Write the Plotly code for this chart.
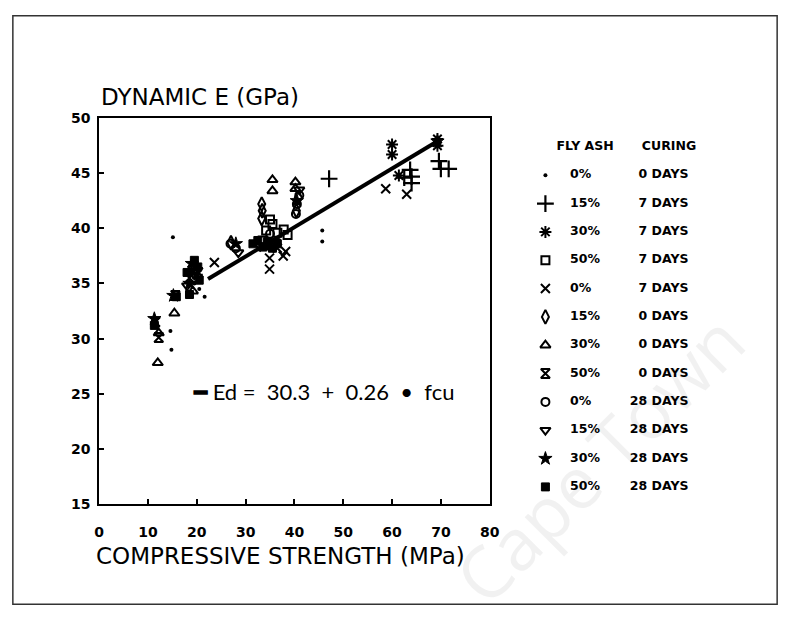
import plotly.graph_objects as go

# ---------------- data ----------------
x_ticks = [0, 10, 20, 30, 40, 50, 60, 70, 80]
y_ticks = [15, 20, 25, 30, 35, 40, 45, 50]

fly_ash = ["0%", "15%", "30%", "50%", "0%", "15%", "30%", "50%", "0%", "15%", "30%", "50%"]
curing = ["0 DAYS", "7 DAYS", "7 DAYS", "7 DAYS", "7 DAYS", "0 DAYS", "0 DAYS", "0 DAYS",
          "28 DAYS", "28 DAYS", "28 DAYS", "28 DAYS"]

# 0% fly ash, 0 days (dot)
s01_x = [14.6, 14.8, 15.1, 21.6, 45.7, 45.7, 19.5, 20.5]
s01_y = [30.7, 29.0, 39.2, 33.8, 39.8, 38.8, 35.0, 34.5]
# 15% fly ash, 7 days (+)
s02_x = [47.1, 63.7, 64.0, 64.0, 69.6, 70.0, 71.6, 62.5]
s02_y = [44.5, 45.3, 44.7, 44.1, 46.1, 45.4, 45.4, 44.6]
# 30% fly ash, 7 days (asterisk)
s03_x = [60.0, 60.0, 61.4, 69.3, 69.3, 19.0, 20.0]
s03_y = [47.6, 46.7, 44.8, 48.1, 47.5, 36.2, 35.8]
# 50% fly ash, 7 days (open square)
s04_x = [34.2, 35.5, 36.5, 37.8, 38.6, 35.0, 33.5]
s04_y = [39.8, 40.4, 39.6, 39.9, 39.4, 40.8, 38.9]
# 0% fly ash, 7 days (x)
s05_x = [23.6, 34.9, 34.9, 38.2, 37.7, 58.7, 63.0, 36.5]
s05_y = [36.9, 36.3, 37.3, 37.9, 37.5, 43.6, 43.1, 38.2]
# 15% fly ash, 0 days (diamond)
s06_x = [33.3, 33.4, 33.3, 40.8, 40.4, 27.0, 19.0]
s06_y = [42.2, 41.6, 40.9, 42.8, 41.6, 38.7, 36.5]
# 30% fly ash, 0 days (triangle up)
s07_x = [12.0, 15.4, 35.5, 35.5, 40.2, 40.2, 12.2, 19.2]
s07_y = [27.8, 32.3, 44.4, 43.4, 44.2, 43.6, 30.5, 34.3]
# 50% fly ash, 0 days (hourglass)
s08_x = [12.2, 11.5, 15.6, 18.5, 20.3, 35.0]
s08_y = [30.1, 31.5, 33.9, 35.5, 36.0, 38.5]
# 0% fly ash, 28 days (circle)
s09_x = [26.9, 40.3, 40.5, 41.0, 28.0, 35.0]
s09_y = [38.6, 41.3, 42.2, 43.0, 38.2, 39.5]
# 15% fly ash, 28 days (triangle down)
s10_x = [18.0, 19.5, 33.0, 36.0, 41.0, 28.5]
s10_y = [34.8, 35.8, 38.4, 38.8, 43.5, 37.8]
# 30% fly ash, 28 days (star)
s11_x = [15.2, 19.0, 18.5, 34.0, 40.5, 69.3, 28.0, 11.3]
s11_y = [33.9, 36.8, 35.0, 38.5, 42.5, 47.9, 38.6, 31.8]
# 50% fly ash, 28 days (filled square)
s12_x = [11.3, 15.8, 18.0, 19.5, 20.2, 31.5, 32.5, 33.5, 34.5, 35.5, 36.5, 20.5, 18.5]
s12_y = [31.2, 33.8, 36.0, 37.1, 36.5, 38.6, 38.9, 38.3, 38.8, 38.2, 38.6, 35.3, 34.0]

# regression line end points
fit_x = [22.3, 69.3]
fit_y = [35.4, 47.9]

series_x = [s01_x, s02_x, s03_x, s04_x, s05_x, s06_x, s07_x, s08_x, s09_x, s10_x, s11_x, s12_x]
series_y = [s01_y, s02_y, s03_y, s04_y, s05_y, s06_y, s07_y, s08_y, s09_y, s10_y, s11_y, s12_y]

# ---------------- styles ----------------
symbols = ["circle", "cross-thin-open", "asterisk-open", "square-open", "x-thin-open",
           "diamond-tall-open", "triangle-up-open", "hourglass-open", "circle-open",
           "triangle-down-open", "star", "square"]
sizes = [4, 12, 10, 8, 9, 10, 9, 9, 8, 9, 10, 8]
lwidths = [0, 2.2, 2, 2, 2, 2, 2, 2, 2, 2, 1, 1]

W, H = 795, 626
PL, PR, PT, PB = 96, 494, 113, 509  # plot area in px

fig = go.Figure()

for i in range(12):
    fig.add_trace(go.Scatter(
        x=series_x[i], y=series_y[i], mode="markers",
        marker=dict(symbol=symbols[i], size=sizes[i], color="black",
                    line=dict(color="black", width=lwidths[i])),
        showlegend=False, hoverinfo="skip", xaxis="x", yaxis="y"))

fig.add_trace(go.Scatter(x=fit_x, y=fit_y, mode="lines",
                         line=dict(color="black", width=4),
                         showlegend=False, hoverinfo="skip"))

# ---------------- legend (drawn on an auxiliary axis) ----------------
rows = list(range(12, 0, -1))
for i in range(12):
    fig.add_trace(go.Scatter(
        x=[0.6], y=[rows[i]], mode="markers",
        marker=dict(symbol=symbols[i], size=sizes[i], color="black",
                    line=dict(color="black", width=lwidths[i])),
        showlegend=False, hoverinfo="skip", xaxis="x2", yaxis="y2"))

legend_font = dict(family="DejaVu Sans", size=12.5, color="black", weight="bold")
fig.add_trace(go.Scatter(x=[2.0] * 12, y=rows, mode="text", text=fly_ash,
                         textposition="middle right", textfont=legend_font,
                         showlegend=False, hoverinfo="skip", xaxis="x2", yaxis="y2"))
fig.add_trace(go.Scatter(x=[8.7] * 12, y=rows, mode="text", text=curing,
                         textposition="middle left", textfont=legend_font,
                         showlegend=False, hoverinfo="skip", xaxis="x2", yaxis="y2"))
fig.add_trace(go.Scatter(x=[2.85, 7.6], y=[13, 13], mode="text", text=["FLY ASH", "CURING"],
                         textposition="middle center", textfont=legend_font,
                         showlegend=False, hoverinfo="skip", xaxis="x2", yaxis="y2"))

tick_font = dict(family="DejaVu Sans", size=14, color="black", weight="bold")
title_font = dict(family="DejaVu Sans", size=23, color="black")

fig.update_layout(
    width=W, height=H,
    margin=dict(l=0, r=0, t=0, b=0),
    paper_bgcolor="white", plot_bgcolor="white",
    xaxis=dict(domain=[PL / W, PR / W], range=[0, 80], tickvals=x_ticks,
               ticks="inside", ticklen=5, tickwidth=2, tickcolor="black",
               showline=True, mirror=True, linecolor="black", linewidth=2,
               showgrid=False, zeroline=False, tickfont=tick_font, ticklabelstandoff=14),
    yaxis=dict(domain=[(H - PB) / H, (H - PT) / H], range=[15, 50], tickvals=y_ticks,
               ticks="inside", ticklen=5, tickwidth=2, tickcolor="black",
               showline=True, mirror=True, linecolor="black", linewidth=2,
               showgrid=False, zeroline=False, tickfont=tick_font, ticklabelstandoff=4),
    xaxis2=dict(domain=[540 / W, 720 / W], range=[0, 10], visible=False, anchor="y2"),
    yaxis2=dict(domain=[(H - 506) / H, (H - 128) / H], range=[0.5, 13.5],
                visible=False, anchor="x2"),
    annotations=[
        dict(text="Cape Town", x=605 / W, y=(H - 462) / H, xref="paper", yref="paper",
             xanchor="center", yanchor="middle", textangle=-45, showarrow=False,
             font=dict(family="Open Sans", size=72, color="rgba(0,0,0,0.055)")),
        dict(text="DYNAMIC E (GPa)", x=96 / W, y=(H - 91) / H, xref="paper", yref="paper",
             xanchor="left", yanchor="middle", showarrow=False, font=title_font),
        dict(text="COMPRESSIVE STRENGTH (MPa)", x=281 / W, y=(H - 562) / H,
             xref="paper", yref="paper", xanchor="center", yanchor="middle",
             showarrow=False, font=title_font),
        dict(text="<b>\u2501</b> Ed\u00a0=\u00a0\u00a030.3\u00a0\u00a0+\u00a0\u00a00.26\u00a0\u00a0\u2022\u00a0\u00a0fcu",
             x=18.9, y=25.2, xref="x", yref="y", xanchor="left", yanchor="middle",
             showarrow=False, font=dict(family="Lato", size=22, color="black")),
    ],
    shapes=[dict(type="rect", xref="paper", yref="paper",
                 x0=8 / W, x1=787 / W, y0=(H - 612) / H, y1=(H - 8) / H,
                 line=dict(color="#333333", width=1.5), layer="below")],
)

fig.write_html("out.html")
